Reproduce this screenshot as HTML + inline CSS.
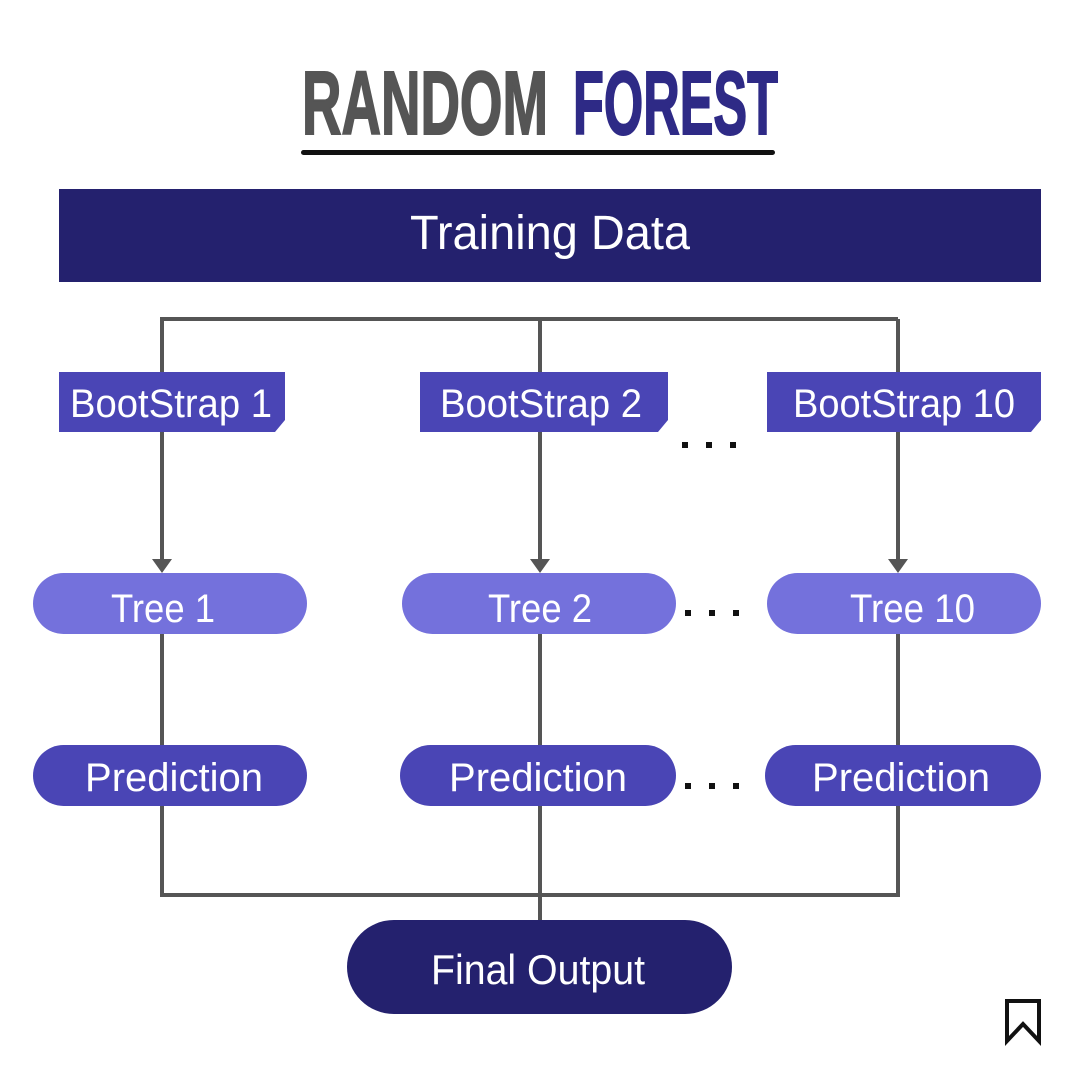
<!DOCTYPE html>
<html><head><meta charset="utf-8"><style>
html,body{margin:0;padding:0;background:#fff;width:1080px;height:1071px;overflow:hidden}
svg text{font-family:"Liberation Sans Narrow","Liberation Sans",sans-serif}
</style></head><body>
<svg width="1080" height="1071" viewBox="0 0 1080 1071" xmlns="http://www.w3.org/2000/svg">
<rect width="1080" height="1071" fill="#fff"/>
<text x="302" y="134" font-size="90" font-weight="bold" fill="#555" textLength="246" lengthAdjust="spacingAndGlyphs" stroke="#555" stroke-width="2">RANDOM</text>
<text x="573" y="134" font-size="90" font-weight="bold" fill="#2e2a86" textLength="205" lengthAdjust="spacingAndGlyphs" stroke="#2e2a86" stroke-width="2">FOREST</text>
<rect x="301" y="150" width="474" height="5" rx="2.5" fill="#111"/>
<rect x="59" y="189" width="982" height="93" fill="#24216e"/>
<text x="410" y="249" font-size="48" fill="#fff" textLength="280" lengthAdjust="spacingAndGlyphs">Training Data</text>
<g stroke="#555" stroke-width="4" fill="none">
<path d="M162 321 V319 H898"/>
<path d="M162 319 V562 M540 319 V562 M898 319 V562"/>
<path d="M162 634 V895 H898 V634 M540 634 V920"/>
</g>
<g fill="#555">
<path d="M152 559 L172 559 L162 573Z"/><path d="M530 559 L550 559 L540 573Z"/><path d="M888 559 L908 559 L898 573Z"/>
</g>
<g fill="#4a45b5">
<path d="M59 372 H285 V420 L275 432 H59Z"/>
<path d="M420 372 H668 V420 L658 432 H420Z"/>
<path d="M767 372 H1041 V420 L1031 432 H767Z"/>
</g>
<g fill="#fff" font-size="40" lengthAdjust="spacingAndGlyphs">
<text x="70" y="417" textLength="202" lengthAdjust="spacingAndGlyphs">BootStrap 1</text>
<text x="440" y="417" textLength="202" lengthAdjust="spacingAndGlyphs">BootStrap 2</text>
<text x="793" y="417" textLength="222" lengthAdjust="spacingAndGlyphs">BootStrap 10</text>
</g>
<g fill="#7471dc">
<rect x="33" y="573" width="274" height="61" rx="30.5"/>
<rect x="402" y="573" width="274" height="61" rx="30.5"/>
<rect x="767" y="573" width="274" height="61" rx="30.5"/>
</g>
<g fill="#4a45b5">
<rect x="33" y="745" width="274" height="61" rx="30.5"/>
<rect x="400" y="745" width="276" height="61" rx="30.5"/>
<rect x="765" y="745" width="276" height="61" rx="30.5"/>
</g>
<g fill="#fff" font-size="40">
<text x="111" y="622" textLength="104" lengthAdjust="spacingAndGlyphs">Tree 1</text>
<text x="488" y="622" textLength="104" lengthAdjust="spacingAndGlyphs">Tree 2</text>
<text x="850" y="622" textLength="125" lengthAdjust="spacingAndGlyphs">Tree 10</text>
<text x="85" y="791" textLength="178" lengthAdjust="spacingAndGlyphs">Prediction</text>
<text x="449" y="791" textLength="178" lengthAdjust="spacingAndGlyphs">Prediction</text>
<text x="812" y="791" textLength="178" lengthAdjust="spacingAndGlyphs">Prediction</text>
</g>
<g fill="#111">
<rect x="682" y="442" width="6" height="6"/><rect x="706" y="442" width="6" height="6"/><rect x="730" y="442" width="6" height="6"/>
<rect x="685" y="610" width="6" height="6"/><rect x="709" y="610" width="6" height="6"/><rect x="733" y="610" width="6" height="6"/>
<rect x="685" y="783" width="6" height="6"/><rect x="709" y="783" width="6" height="6"/><rect x="733" y="783" width="6" height="6"/>
</g>
<rect x="347" y="920" width="385" height="94" rx="47" fill="#24216e"/>
<text x="431" y="984" font-size="42" fill="#fff" textLength="214" lengthAdjust="spacingAndGlyphs">Final Output</text>
<path d="M1007 1001 H1039 V1041 L1023 1024 L1007 1041Z" fill="none" stroke="#111" stroke-width="4" stroke-linejoin="miter"/>
</svg>
</body></html>
